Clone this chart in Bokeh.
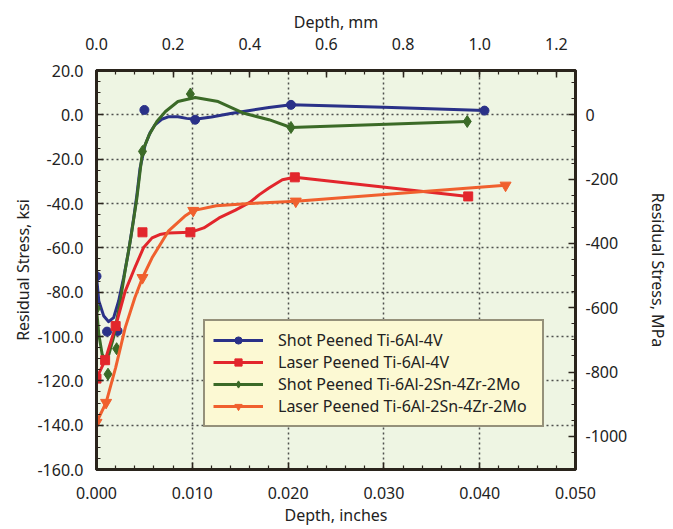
from bokeh.plotting import figure
from bokeh.models import (Range1d, LinearAxis, SingleIntervalTicker, NumeralTickFormatter,
                          Legend, LegendItem)
from bokeh.embed import file_html
from bokeh.resources import INLINE

# ---------------- data ----------------
# depth in inches, residual stress in ksi
series_names = ["Shot Peened Ti-6Al-4V", "Laser Peened Ti-6Al-4V",
                "Shot Peened Ti-6Al-2Sn-4Zr-2Mo", "Laser Peened Ti-6Al-2Sn-4Zr-2Mo"]

# measured points (markers)
sp64_x = [0.0000, 0.0011, 0.0022, 0.0050, 0.0103, 0.0203, 0.0405]
sp64_y = [-72.8, -97.8, -97.5, 2.2, -2.2, 4.5, 1.9]
lp64_x = [0.0000, 0.0009, 0.0020, 0.0048, 0.0098, 0.0207, 0.0388]
lp64_y = [-119.0, -110.7, -95.3, -53.0, -53.0, -28.2, -36.8]
sp6242_x = [0.0000, 0.0012, 0.0021, 0.0048, 0.0098, 0.0203, 0.0387]
sp6242_y = [-87.3, -117.0, -105.5, -16.5, 9.4, -5.7, -3.0]
lp6242_x = [0.0000, 0.0010, 0.0048, 0.0101, 0.0208, 0.0427]
lp6242_y = [-138.8, -129.8, -73.5, -43.2, -39.0, -31.8]

# fitted curves as drawn in the picture
sp64_cx = [0.0000, 0.00024, 0.00076, 0.00127, 0.00179, 0.00231, 0.00283, 0.00335, 0.00387,
           0.00422, 0.00455, 0.00508, 0.00560, 0.00611, 0.00680, 0.00749, 0.0085, 0.0094,
           0.0103, 0.0120, 0.0140, 0.0160, 0.0180, 0.0203, 0.0300, 0.0405]
sp64_cy = [-72.8, -84.0, -90.8, -93.3, -91.5, -84.0, -73.5, -61.5, -47.0,
           -36.0, -24.0, -13.5, -8.0, -4.5, -2.0, -0.9, -0.9, -1.6,
           -2.0, -1.0, 0.6, 2.0, 3.3, 4.5, 3.4, 1.9]
lp64_cx = [0.0000, 0.0009, 0.0020, 0.0030, 0.0040, 0.0049, 0.0058, 0.0066, 0.0075, 0.0098,
           0.0112, 0.0128, 0.0145, 0.0160, 0.0170, 0.0180, 0.0194, 0.0207, 0.0388]
lp64_cy = [-119.0, -110.7, -95.3, -79.5, -69.0, -60.0, -55.5, -54.0, -53.3, -53.0,
           -51.0, -46.5, -43.0, -39.5, -36.0, -33.0, -29.3, -28.2, -36.8]
sp6242_cx = [0.0000, 0.00024, 0.00059, 0.00093, 0.0013, 0.0018, 0.0024, 0.0030, 0.0036,
             0.0042, 0.0048, 0.0055, 0.0063, 0.0072, 0.0085, 0.0103, 0.0127, 0.0154,
             0.0180, 0.0203, 0.0387]
sp6242_cy = [-87.3, -99.0, -108.0, -110.5, -108.0, -100.0, -86.0, -70.0, -55.0,
             -38.0, -16.5, -9.0, -3.0, 1.5, 6.0, 7.8, 6.0, 0.7,
             -2.2, -5.7, -3.0]
lp6242_cx = [0.0000, 0.0010, 0.0020, 0.0030, 0.0040, 0.0048, 0.0058, 0.0075, 0.0092,
             0.0101, 0.0125, 0.0160, 0.0208, 0.0427]
lp6242_cy = [-138.8, -129.8, -114.0, -96.0, -82.5, -73.5, -64.5, -52.5, -45.8,
             -43.2, -41.0, -40.0, -39.0, -31.8]

# axes
x_in_range = (0.0, 0.050)
x_mm_range = (0.0, 1.25)
y_ksi_range = (-160.0, 20.0)
KSI_TO_MPA = 6.895
y_mpa_range = (y_ksi_range[0] * KSI_TO_MPA, y_ksi_range[1] * KSI_TO_MPA)

colors = ["#2a3188", "#e2262c", "#3b6a27", "#f0602e"]
markers = ["circle", "square", "diamond", "inverted_triangle"]
marker_sizes = [9, 9, 12, 11]

FONT = "Noto Sans"
TXT = "#222222"

p = figure(width=672, height=528, output_backend="svg", toolbar_location=None,
           x_range=Range1d(*x_in_range), y_range=Range1d(*y_ksi_range),
           min_border_left=96, min_border_right=94, min_border_top=70, min_border_bottom=58)
p.extra_x_ranges = {"mm": Range1d(*x_mm_range)}
p.extra_y_ranges = {"mpa": Range1d(*y_mpa_range)}

p.background_fill_color = "#eef5e3"
p.border_fill_color = "white"
p.outline_line_color = "#2a241c"
p.outline_line_width = 3

bottom = p.below[0]
left = p.left[0]
bottom.ticker = SingleIntervalTicker(interval=0.010, num_minor_ticks=5)
bottom.formatter = NumeralTickFormatter(format="0.000")
bottom.axis_label = "Depth, inches"
left.ticker = SingleIntervalTicker(interval=20, num_minor_ticks=4)
left.formatter = NumeralTickFormatter(format="0.0")
left.axis_label = "Residual Stress, ksi"

top = LinearAxis(x_range_name="mm", axis_label="Depth, mm",
                 ticker=SingleIntervalTicker(interval=0.2, num_minor_ticks=4),
                 formatter=NumeralTickFormatter(format="0.0"))
right = LinearAxis(y_range_name="mpa", axis_label="Residual Stress, MPa",
                   ticker=SingleIntervalTicker(interval=200, num_minor_ticks=4),
                   formatter=NumeralTickFormatter(format="0"))
p.add_layout(top, "above")
p.add_layout(right, "right")

for ax in [bottom, left, top, right]:
    ax.major_tick_in = 7
    ax.major_tick_out = 0
    ax.minor_tick_in = 4
    ax.minor_tick_out = 0
    ax.axis_line_color = "#2a241c"
    ax.axis_line_width = 3
    ax.major_tick_line_color = "#2a241c"
    ax.minor_tick_line_color = "#2a241c"
    ax.major_tick_line_width = 1.5
    ax.minor_tick_line_width = 1.2
    ax.major_label_text_font = FONT
    ax.major_label_text_font_size = "16px"
    ax.major_label_text_color = TXT
    ax.axis_label_text_font = FONT
    ax.axis_label_text_font_size = "16px"
    ax.axis_label_text_font_style = "normal"
    ax.axis_label_text_color = TXT

bottom.major_label_standoff = 17
bottom.axis_label_standoff = 2
top.major_label_standoff = 21
top.axis_label_standoff = 2
left.major_label_standoff = 13
left.axis_label_standoff = 0
right.major_label_standoff = 10
right.axis_label_standoff = 17

# grid
p.xgrid.ticker = SingleIntervalTicker(interval=0.010)
p.ygrid.ticker = SingleIntervalTicker(interval=20)
for g in [p.xgrid[0], p.ygrid[0]]:
    g.grid_line_color = "#333333"
    g.grid_line_width = 1.5
    g.grid_line_dash = "2 3"
    g.grid_line_alpha = 0.85

curves = [(sp64_cx, sp64_cy), (lp64_cx, lp64_cy), (sp6242_cx, sp6242_cy), (lp6242_cx, lp6242_cy)]
points = [(sp64_x, sp64_y), (lp64_x, lp64_y), (sp6242_x, sp6242_y), (lp6242_x, lp6242_y)]
order = [0, 2, 1, 3]
items = {}
for i in order:
    cx, cy = curves[i]
    px, py = points[i]
    lr = p.line(cx, cy, line_color=colors[i], line_width=3, line_join="round")
    sr = p.scatter(px, py, marker=markers[i], size=marker_sizes[i],
                   fill_color=colors[i], line_color=colors[i])
    items[i] = LegendItem(label=series_names[i], renderers=[lr, sr])

legend = Legend(items=[items[i] for i in range(4)], location=(107, 42))
legend.background_fill_color = "#fcf9d3"
legend.background_fill_alpha = 1.0
legend.border_line_color = "#2e2a22"
legend.border_line_width = 2
legend.label_text_font = FONT
legend.label_text_font_size = "16px"
legend.label_text_color = TXT
legend.glyph_width = 50
legend.glyph_height = 18
legend.label_height = 18
legend.label_width = 256
legend.label_standoff = 15
legend.spacing = 0
legend.padding = 8
legend.margin = 0
p.add_layout(legend, "center")

open("out.html", "w").write(file_html(p, INLINE))
